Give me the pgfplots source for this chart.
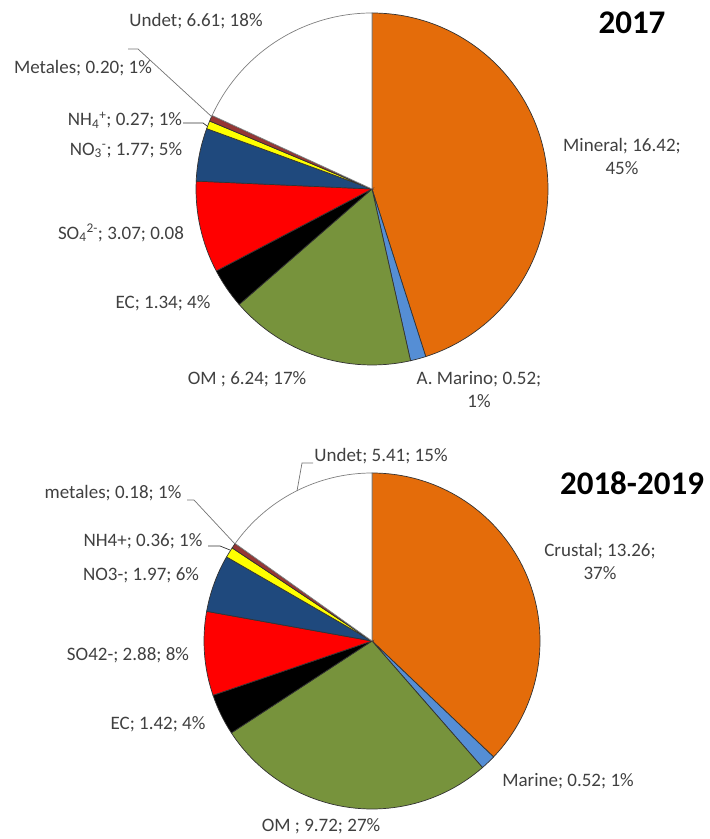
\documentclass[border=0pt]{standalone}
\usepackage{pgfplots}
\usepackage{pgfplotstable}
\pgfplotsset{compat=1.18}
\usepackage{fontspec}
\setmainfont{Carlito}

\definecolor{cOrange}{HTML}{E46C0A}
\definecolor{cBlue}{HTML}{558ED5}
\definecolor{cGreen}{HTML}{77933C}
\definecolor{cRed}{HTML}{FF0000}
\definecolor{cNavy}{HTML}{1F497D}
\definecolor{cYellow}{HTML}{FFFF00}
\definecolor{cBrown}{HTML}{953735}
\definecolor{cText}{HTML}{404040}

\tikzset{lbl/.style={font=\fontsize{19}{23}\selectfont, text=cText, inner sep=0pt},
         ttl/.style={font=\fontsize{33}{40}\selectfont\bfseries, text=black, inner sep=0pt}}

\pgfplotstableread{
val   col
16.42 cOrange
0.52  cBlue
6.24  cGreen
1.34  black
3.07  cRed
1.77  cNavy
0.27  cYellow
0.20  cBrown
6.61  white
}\dataA

\pgfplotstableread{
val   col
13.26 cOrange
0.52  cBlue
9.72  cGreen
1.42  black
2.88  cRed
1.97  cNavy
0.36  cYellow
0.18  cBrown
5.41  white
}\dataB

\def\whitename{white}
% #1 table, #2 cx, #3 cy, #4 radius
\newcommand{\drawpie}[4]{%
  \pgfplotstablegetrowsof{#1}%
  \pgfmathtruncatemacro{\pienrows}{\pgfplotsretval-1}%
  \gdef\pietotal{0}%
  \foreach \i in {0,...,\pienrows}{%
    \pgfplotstablegetelem{\i}{val}\of{#1}%
    \pgfmathsetmacro\pietmp{\pietotal+\pgfplotsretval}%
    \xdef\pietotal{\pietmp}}%
  \gdef\piestart{90}%
  \foreach \i in {0,...,\pienrows}{%
    \pgfplotstablegetelem{\i}{val}\of{#1}\let\pieval\pgfplotsretval
    \pgfplotstablegetelem{\i}{col}\of{#1}\let\piecol\pgfplotsretval
    \pgfmathsetmacro\pieend{\piestart-360*\pieval/\pietotal}%
    \ifx\piecol\whitename
      \filldraw[fill=white, draw=black!50, line width=0.7pt] (axis cs:#2,#3) -- ++(\piestart:#4pt) arc[start angle=\piestart, end angle=\pieend, radius=#4pt] -- cycle;
    \else
      \filldraw[fill=\piecol, draw=black!80, line width=0.7pt] (axis cs:#2,#3) -- ++(\piestart:#4pt) arc[start angle=\piestart, end angle=\pieend, radius=#4pt] -- cycle;
    \fi
    \xdef\piestart{\pieend}}%
}

\begin{document}
\begin{tikzpicture}
\begin{axis}[
  x=1pt, y=1pt,
  xmin=0, xmax=710, ymin=0, ymax=839,
  hide axis, clip=false,
]
\path (axis cs:0,0) (axis cs:710,839);
\pgfplotsextra{\drawpie{\dataA}{372}{650}{176}}
\pgfplotsextra{\drawpie{\dataB}{372}{198}{168}}

% leader lines
\draw[black!55, line width=0.7pt] (axis cs:128,790) -- (axis cs:138,790) -- (axis cs:212,722);
\draw[black!80, line width=0.7pt] (axis cs:183,716) -- (axis cs:203,716) -- (axis cs:207,713);
\draw[black!55, line width=0.7pt] (axis cs:313,376) -- (axis cs:302,376) -- (axis cs:297,348);
\draw[black!55, line width=0.7pt] (axis cs:187,339) -- (axis cs:194,339) -- (axis cs:235,295);
\draw[black!80, line width=0.7pt] (axis cs:208,293) -- (axis cs:220,293) -- (axis cs:230,289);

% titles
\node[ttl] at (axis cs:632,816) {2017};
\node[ttl] at (axis cs:632,356) {2018-2019};

% labels 2017
\node[lbl] at (axis cs:196,818) {Undet; 6.61; 18\%};
\node[lbl] at (axis cs:83,771) {Metales; 0.20; 1\%};
\node[lbl] at (axis cs:125,719) {NH\textsubscript{4}\textsuperscript{+}; 0.27; 1\%};
\node[lbl] at (axis cs:126,689) {NO\textsubscript{3}\textsuperscript{-}; 1.77; 5\%};
\node[lbl] at (axis cs:121,606) {SO\textsubscript{4}\textsuperscript{2-}; 3.07; 0.08};
\node[lbl] at (axis cs:163,536) {EC; 1.34; 4\%};
\node[lbl] at (axis cs:247,460) {OM ; 6.24; 17\%};
\node[lbl, align=center] at (axis cs:479,449) {A. Marino; 0.52;\\1\%};
\node[lbl, align=center] at (axis cs:622,683) {Mineral; 16.42;\\45\%};

% labels 2018-2019
\node[lbl] at (axis cs:381,383) {Undet; 5.41; 15\%};
\node[lbl] at (axis cs:113,346) {metales; 0.18; 1\%};
\node[lbl] at (axis cs:143,298) {NH4+; 0.36; 1\%};
\node[lbl] at (axis cs:141,264) {NO3-; 1.97; 6\%};
\node[lbl] at (axis cs:128,184) {SO42-; 2.88; 8\%};
\node[lbl] at (axis cs:158,115) {EC; 1.42; 4\%};
\node[lbl] at (axis cs:321,13) {OM ; 9.72; 27\%};
\node[lbl] at (axis cs:568,58) {Marine; 0.52; 1\%};
\node[lbl, align=center] at (axis cs:600,278) {Crustal; 13.26;\\37\%};
\end{axis}
\end{tikzpicture}
\end{document}
